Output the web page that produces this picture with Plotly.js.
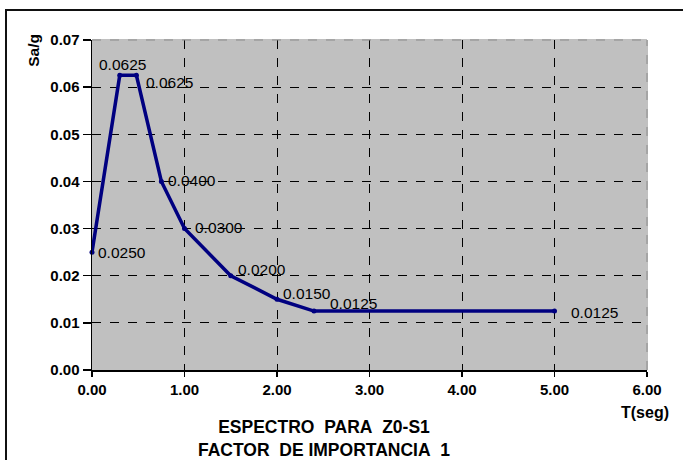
<!DOCTYPE html>
<html>
<head>
<meta charset="utf-8">
<script src="https://cdn.plot.ly/plotly-3.0.1.min.js"></script>
<style>
  html, body { margin: 0; padding: 0; background: #fff; }
  #wrap { position: relative; width: 683px; height: 460px; overflow: hidden; }
  #chart { width: 683px; height: 460px; }
  #frame { position: absolute; left: 5px; top: 9px; width: 720px; height: 500px;
           border-left: 2px solid #111; border-top: 2px solid #111; pointer-events: none; }
</style>
</head>
<body>
<div id="wrap">
  <div id="chart"></div>
  <div id="frame"></div>
</div>
<script>
// ---- data ----
const periodT = [0, 0.3, 0.48, 0.75, 1.0, 1.5, 2.0, 2.4, 5.0];
const saG     = [0.025, 0.0625, 0.0625, 0.04, 0.03, 0.02, 0.015, 0.0125, 0.0125];
const pointLabels = saG.map(v => v.toFixed(4));
const xTickVals = [0, 1, 2, 3, 4, 5, 6];
const yTickVals = [0, 0.01, 0.02, 0.03, 0.04, 0.05, 0.06, 0.07];
const titleLines = ['ESPECTRO\u00A0\u00A0PARA\u00A0\u00A0Z0-S1', 'FACTOR\u00A0 DE IMPORTANCIA\u00A0 1'];
const xTitle = 'T(seg)';
const yTitle = 'Sa/g';

// ---- label placement (style only) ----
const labAnchor = ['left', 'center', 'left', 'left', 'left', 'left', 'left', 'left', 'left'];
const labXShift = [4, 3, 8, 5, 8, 5, 4, 14, 14];
const labYShift = [0, 11, -7, 1, 1, 6, 6, 8, -1];

const navy = '#000080';
const fam = 'Liberation Sans, Arial, sans-serif';

const trace = {
  x: periodT, y: saG, type: 'scatter', mode: 'lines+markers',
  line: { color: navy, width: 3.5 },
  marker: { color: navy, size: 5 },
  hoverinfo: 'x+y', showlegend: false, cliponaxis: false
};

const annotations = periodT.map((t, i) => ({
  x: t, y: saG[i], xref: 'x', yref: 'y', text: pointLabels[i], showarrow: false,
  xanchor: labAnchor[i], yanchor: 'middle', xshift: labXShift[i], yshift: labYShift[i],
  font: { family: fam, size: 15.5, color: '#000' }
}));
annotations.push({
  x: 0.996, y: -0.13, xref: 'paper', yref: 'paper', text: xTitle, showarrow: false,
  xanchor: 'center', yanchor: 'middle',
  font: { family: fam, size: 16, color: '#000', weight: 'bold' }
});
annotations.push({
  x: -0.106, y: 0.968, xref: 'paper', yref: 'paper', text: yTitle, showarrow: false,
  textangle: -90, xanchor: 'center', yanchor: 'middle',
  font: { family: fam, size: 15.5, color: '#000', weight: 'bold' }
});

const tickFont = { family: fam, size: 15, color: '#000', weight: 'bold' };

const layout = {
  width: 683, height: 460,
  margin: { l: 92, r: 36, t: 40, b: 90 },
  paper_bgcolor: '#ffffff', plot_bgcolor: '#C0C0C0',
  title: {
    text: titleLines.join('<br>'),
    xref: 'paper', x: 0.418, xanchor: 'center',
    yref: 'container', y: 0.058, yanchor: 'middle',
    font: { family: fam, size: 17.5, color: '#000', weight: 'bold' }
  },
  xaxis: {
    range: [0, 6], tickvals: xTickVals, tickformat: '.2f',
    showline: true, linecolor: '#000', linewidth: 1.5, mirror: false,
    ticks: 'outside', ticklen: 5, tickcolor: '#000', tickwidth: 1.5,
    showgrid: true, gridcolor: '#000', griddash: 'dash', gridwidth: 1,
    zeroline: false, tickfont: tickFont, fixedrange: true
  },
  yaxis: {
    range: [0, 0.07], tickvals: yTickVals, tickformat: '.2f',
    showline: true, linecolor: '#000', linewidth: 1.5, mirror: false,
    ticks: 'outside', ticklen: 8, tickcolor: '#000', tickwidth: 1.5,
    showgrid: true, gridcolor: '#000', griddash: 'dash', gridwidth: 1,
    zeroline: false, tickfont: tickFont, fixedrange: true
  },
  shapes: [
    { type: 'line', xref: 'paper', yref: 'paper', x0: 1, x1: 1, y0: 0, y1: 1,
      line: { color: '#C0C0C0', width: 2 }, layer: 'below' },
    { type: 'line', xref: 'paper', yref: 'paper', x0: 0, x1: 1, y0: 1, y1: 1,
      line: { color: '#C0C0C0', width: 2 }, layer: 'below' },
    { type: 'line', xref: 'paper', yref: 'paper', x0: 1, x1: 1, y0: 0, y1: 1,
      line: { color: '#8a8a8a', width: 1, dash: 'dash' }, layer: 'above' },
    { type: 'line', xref: 'paper', yref: 'paper', x0: 0, x1: 1, y0: 1, y1: 1,
      line: { color: '#8a8a8a', width: 1, dash: 'dash' }, layer: 'above' }
  ],
  annotations: annotations
};

Plotly.newPlot('chart', [trace], layout, { displayModeBar: false, staticPlot: true });
</script>
</body>
</html>
